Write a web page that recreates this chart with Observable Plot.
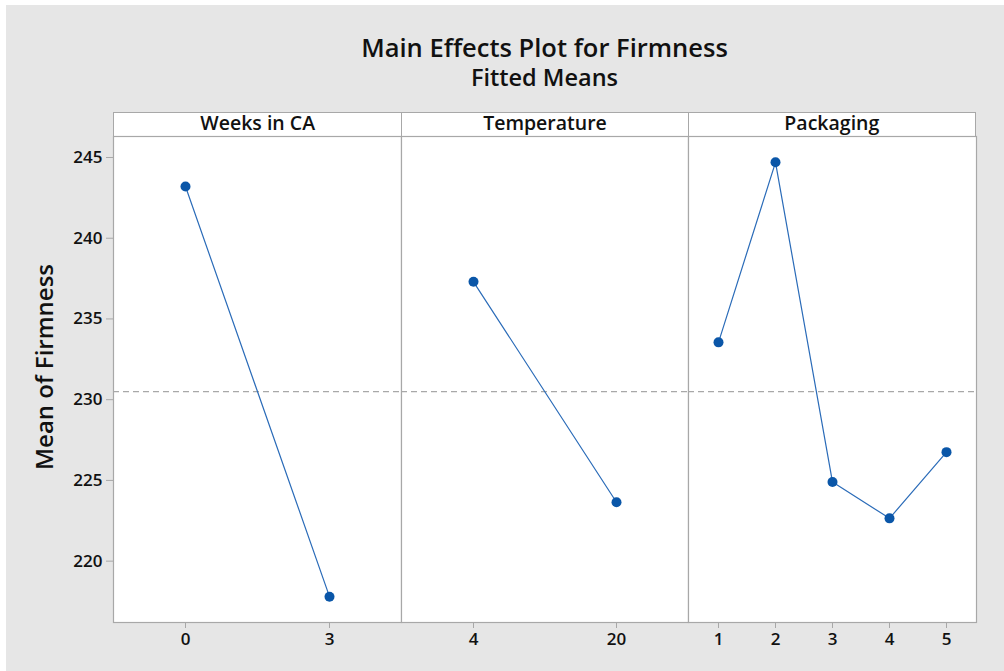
<!DOCTYPE html>
<html>
<head>
<meta charset="utf-8">
<script src="https://cdn.jsdelivr.net/npm/d3@7"></script>
<script src="https://cdn.jsdelivr.net/npm/@observablehq/plot@0.6"></script>
<style>
  html, body { margin: 0; padding: 0; background: #ffffff; }
  #page { position: relative; width: 1004px; height: 671px; overflow: hidden; font-family: "Open Sans", "Noto Sans", sans-serif; color: #111; }
  #bg { position: absolute; left: 6px; top: 5px; right: 0; bottom: 0; background: #e6e6e6; }
  .title { position: absolute; left: 113px; width: 863px; text-align: center; white-space: nowrap; line-height: 1; font-weight: 600; }
  #t1 { top: 35px; font-size: 25.5px; }
  #t2 { top: 66px; font-size: 23.5px; }
  #ylab { position: absolute; left: 43.5px; top: 367px; transform: translate(-50%, -50%) rotate(-90deg); font-size: 24px; line-height: 1; font-weight: 600; white-space: nowrap; }
  #header { position: absolute; left: 113px; top: 112px; width: 863px; height: 24px; display: flex; background: #fff; box-sizing: border-box; border: 1px solid #a8a8a8; border-bottom: none; }
  #header div { box-sizing: border-box; text-align: center; font-size: 19.5px; font-weight: 600; line-height: 20px; white-space: nowrap; }
  .panel { position: absolute; top: 112px; }
  .panel svg { overflow: visible; }
  .panel svg text { font-weight: 600; }
</style>
</head>
<body>
<div id="page">
  <div id="bg"></div>
  <div class="title" id="t1">Main Effects Plot for Firmness</div>
  <div class="title" id="t2">Fitted Means</div>
  <div id="ylab">Mean of Firmness</div>
  <div id="header"></div>
  <div class="panel" id="p0" style="left:0px"></div>
  <div class="panel" id="p1" style="left:401px"></div>
  <div class="panel" id="p2" style="left:688px"></div>
</div>
<script>
// ---- data ----
const factorNames = ["Weeks in CA", "Temperature", "Packaging"];
const weeksLevels = ["0", "3"];
const weeksMeans = [243.2, 217.8];
const tempLevels = ["4", "20"];
const tempMeans = [237.3, 223.65];
const packLevels = ["1", "2", "3", "4", "5"];
const packMeans = [233.55, 244.7, 224.9, 222.65, 226.75];
const yTicks = [220, 225, 230, 235, 240, 245];
const yDomain = [216.2, 246.3];

const grandMean = d3.mean(weeksMeans);

const panels = [
  {levels: weeksLevels, means: weeksMeans, width: 401, marginLeft: 113, yAxis: true},
  {levels: tempLevels, means: tempMeans, width: 287, marginLeft: 0, yAxis: false},
  {levels: packLevels, means: packMeans, width: 288, marginLeft: 0, yAxis: false}
];

// header strip
const header = document.getElementById("header");
panels.forEach((p, i) => {
  const d = document.createElement("div");
  d.textContent = factorNames[i];
  d.style.width = (p.width - p.marginLeft) + "px";
  if (i > 0) d.style.borderLeft = "1px solid #a8a8a8";
  header.appendChild(d);
});

const blue = "#0a56a8";
const gray = "#a8a8a8";

panels.forEach((p, i) => {
  const data = p.levels.map((lv, j) => ({level: lv, mean: p.means[j]}));
  const marks = [
    Plot.frame({fill: "white", stroke: gray, strokeWidth: 1.2}),
    Plot.ruleY([grandMean], {stroke: gray, strokeWidth: 1.2, strokeDasharray: "6,4"}),
    Plot.lineY(data, {x: "level", y: "mean", stroke: "#2a6bb8", strokeWidth: 1.2}),
    Plot.dot(data, {x: "level", y: "mean", r: 5, fill: blue, stroke: "none"}),
    Plot.axisX({tickSize: 6, tickPadding: 4, stroke: gray, fill: "#111", fontSize: 17, label: null})
  ];
  if (p.yAxis) {
    marks.push(Plot.axisY(yTicks, {tickSize: 7, tickPadding: 4, stroke: gray, fill: "#111", fontSize: 17, label: null}));
  }
  const chart = Plot.plot({
    width: p.width,
    height: 555,
    marginLeft: p.marginLeft,
    marginRight: 0,
    marginTop: 24,
    marginBottom: 45,
    style: {background: "transparent", fontFamily: "'Open Sans', 'Noto Sans', sans-serif", overflow: "visible"},
    x: {type: "point", domain: p.levels, padding: 0.5, label: null},
    y: {domain: yDomain, label: null, axis: p.yAxis ? undefined : null},
    marks
  });
  document.getElementById("p" + i).appendChild(chart);
});
</script>
</body>
</html>
